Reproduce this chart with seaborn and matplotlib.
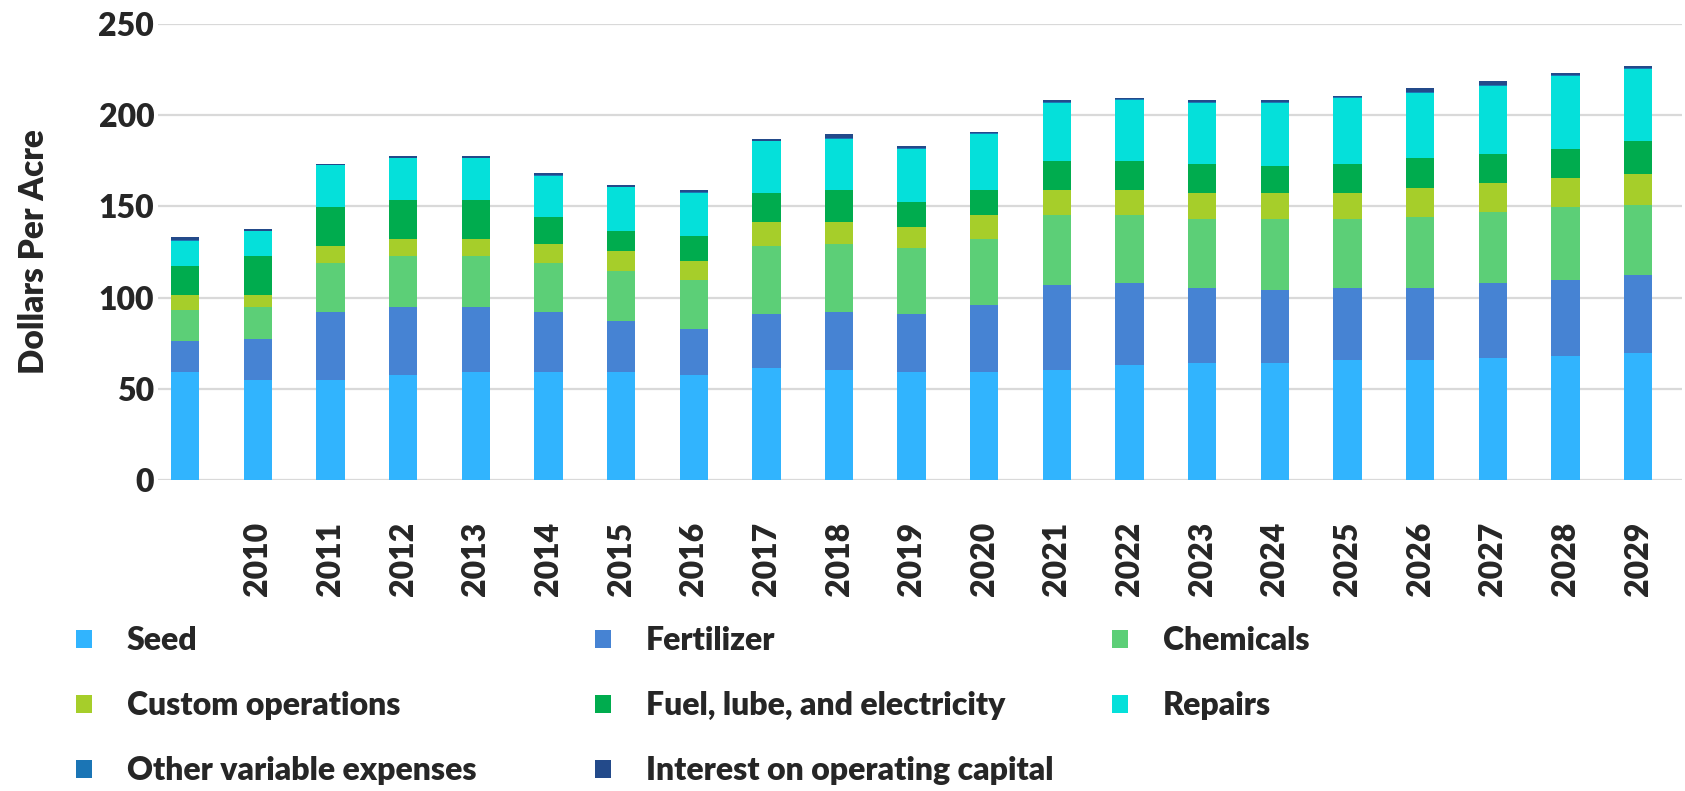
import matplotlib
matplotlib.use("Agg")
import matplotlib.pyplot as plt
from matplotlib.patches import Patch
import numpy as np
import seaborn as sns

# Year labels (first bar has no label in the source)
years = ["", "2010", "2011", "2012", "2013", "2014", "2015", "2016", "2017", "2018",
         "2019", "2020", "2021", "2022", "2023", "2024", "2025", "2026", "2027", "2028", "2029"]

# Cost components, dollars per acre
seed = [59, 55, 55, 57.5, 59, 59, 59, 57.5, 61.5, 60.3, 59, 59, 60.3, 62.8, 64.1, 64.1, 65.6, 65.6, 66.8, 68.1, 69.6]
fertilizer = [17.2, 22.5, 37.1, 37.4, 35.9, 33.1, 28, 25.3, 29.3, 31.8, 31.8, 37.2, 46.5, 45.3, 41.4, 40.1, 39.9, 39.9, 41.3, 41.4, 42.5]
chemicals = [17.2, 17.4, 26.8, 28, 28, 26.8, 27.8, 26.7, 37.4, 37.4, 36.1, 36, 38.6, 37.3, 37.4, 38.7, 37.4, 38.6, 38.8, 40, 38.6]
custom_ops = [8.1, 6.6, 9.3, 9.3, 9.3, 10.6, 10.7, 10.6, 13.4, 12.1, 11.9, 13.2, 13.4, 13.4, 14.6, 14.6, 14.6, 16, 15.9, 15.9, 17.2]
fuel = [15.9, 21.4, 21.3, 21.3, 21.3, 14.6, 10.8, 13.4, 15.9, 17.2, 13.4, 13.4, 15.9, 15.9, 15.9, 14.7, 15.9, 16.1, 16, 16.1, 17.6]
repairs = [13.4, 13.4, 23, 22.7, 22.7, 22.7, 24, 24, 28, 28, 29.3, 30.8, 32.1, 33.4, 33.4, 34.6, 35.9, 35.9, 37.3, 40.1, 39.8]
other = [0.6, 0.4, 0.3, 0.4, 0.4, 0.4, 0.4, 0.4, 0.4, 0.5, 0.4, 0.4, 0.4, 0.4, 0.4, 0.4, 0.4, 0.5, 0.5, 0.4, 0.4]
interest = [1.9, 0.8, 0.6, 1.1, 1.1, 0.9, 0.8, 0.9, 0.9, 2.3, 1.1, 0.8, 0.9, 0.8, 0.9, 0.9, 0.9, 2.1, 2.3, 0.9, 1.0]

names = ["Seed", "Fertilizer", "Chemicals", "Custom operations",
         "Fuel, lube, and electricity", "Repairs", "Other variable expenses",
         "Interest on operating capital"]
series = [seed, fertilizer, chemicals, custom_ops, fuel, repairs, other, interest]
colors = ["#31B4FE", "#4683D3", "#5CCF77", "#A6CE2A", "#00AC4E", "#05E0DA", "#1B75B5", "#234A8A"]

sns.set_style("white")
plt.rcParams["font.family"] = ["Lato", "DejaVu Sans"]

W = 800  # heavy weight, the source text is very bold

fig = plt.figure(figsize=(16.85, 7.91), dpi=100)
ax = fig.add_axes([0.094, 0.393, 0.904, 0.577])

# stacked bars: draw cumulative totals from the top layer down
cum = np.cumsum(np.array(series), axis=0)
for i in range(len(series) - 1, -1, -1):
    sns.barplot(x=years, y=cum[i], color=colors[i], saturation=1, width=0.39,
                linewidth=0, ax=ax)

ax.set_ylim(0, 250)
ax.set_yticks(range(0, 251, 50))
ax.set_xlim(-0.37, 20.6)
ax.yaxis.grid(True, color="#D9D9D9", linewidth=1.6)
ax.set_axisbelow(True)
for s in ax.spines.values():
    s.set_visible(False)
ax.tick_params(length=0, labelsize=23)
ax.tick_params(axis="x", pad=30)
ax.tick_params(axis="y", pad=3)
plt.setp(ax.get_xticklabels(), rotation=90, fontweight=W)
plt.setp(ax.get_yticklabels(), fontweight=W)
ax.set_xlabel("")
ax.set_ylabel("Dollars Per Acre", fontsize=24, fontweight=W)
ax.yaxis.set_label_coords(-0.071, 0.5)

# legend in three columns
cols = [[0, 3, 6], [1, 4, 7], [2, 5]]
xs = [0.045, 0.353, 0.660]
for col, x in zip(cols, xs):
    handles = [Patch(facecolor=colors[k], edgecolor="none") for k in col]
    fig.legend(handles, [names[k] for k in col], loc="upper left",
               bbox_to_anchor=(x, 0.208), frameon=False,
               handlelength=0.5, handleheight=0.5, handletextpad=1.1,
               labelspacing=1.12, borderpad=0, borderaxespad=0,
               prop={"weight": W, "size": 23})

fig.savefig("out.png", dpi=100)
